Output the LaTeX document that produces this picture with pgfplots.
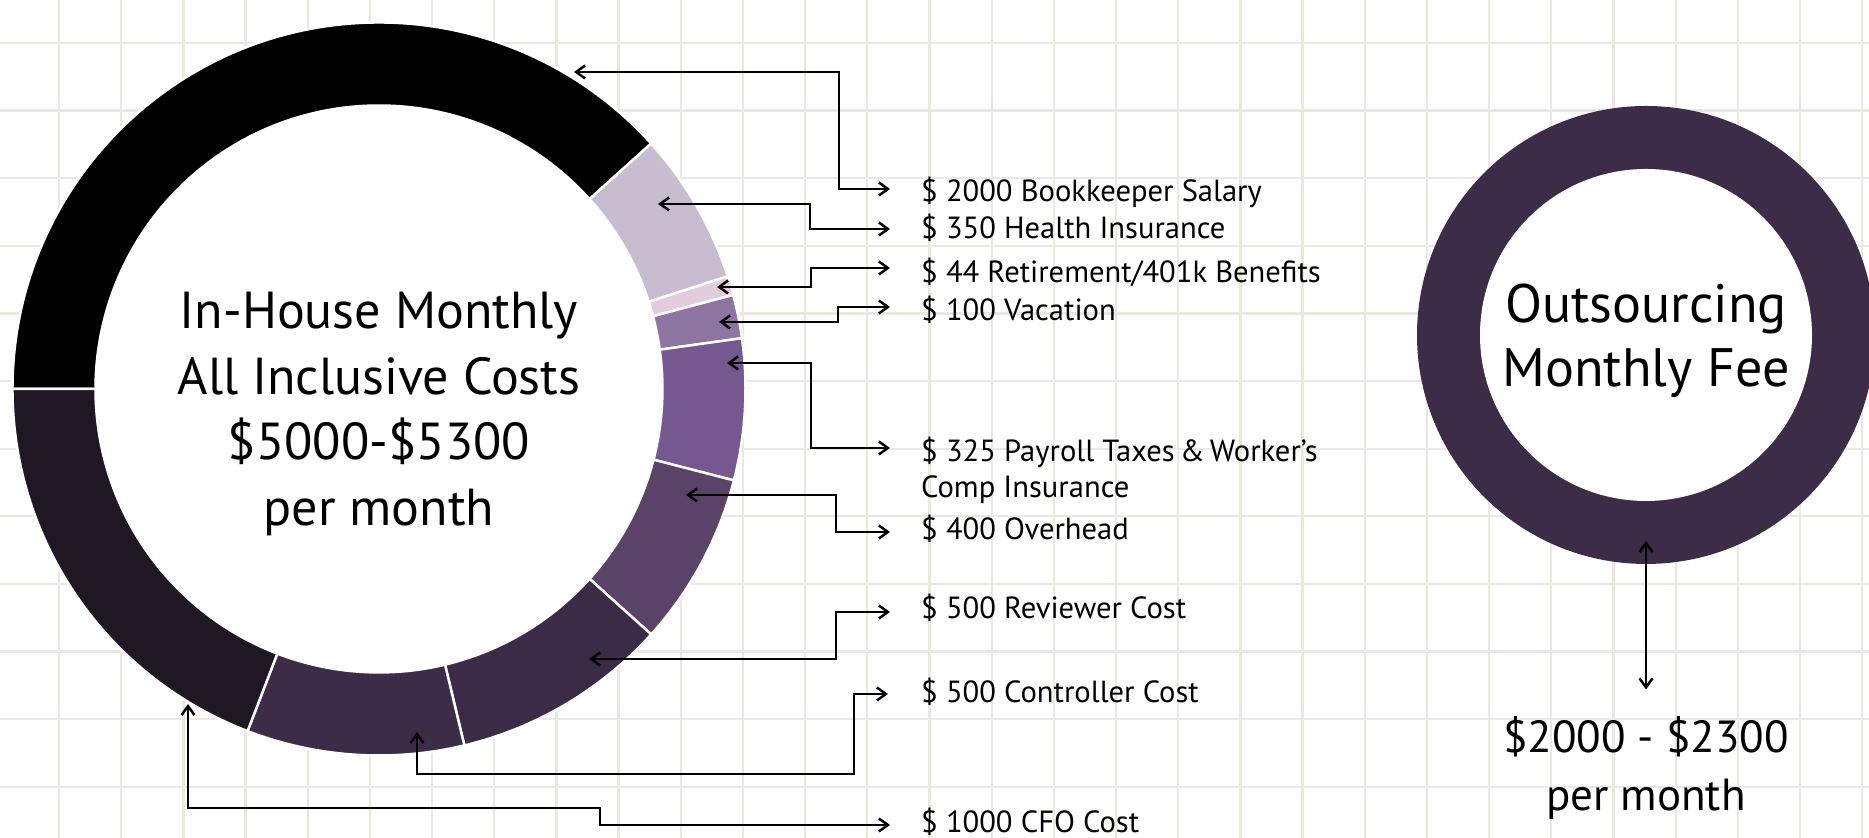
\documentclass[border=0pt]{standalone}
\usepackage{fontspec}
\setmainfont{PT Sans}
\usepackage{pgfplots}
\pgfplotsset{compat=1.18}
\usepackage{pgfplotstable}
\usetikzlibrary{calc,arrows.meta}

\definecolor{gridc}{HTML}{EAE8E1}
\definecolor{seg0}{HTML}{000000}
\definecolor{seg1}{HTML}{C7BCD0}
\definecolor{seg2}{HTML}{E2CDDC}
\definecolor{seg3}{HTML}{8E74A0}
\definecolor{seg4}{HTML}{765891}
\definecolor{seg5}{HTML}{5A4269}
\definecolor{seg6}{HTML}{3C2B46}
\definecolor{seg7}{HTML}{3D2C47}
\definecolor{seg8}{HTML}{1F1724}
\definecolor{ringc}{HTML}{3D2C47}

% monthly in-house costs, clockwise from 9 o'clock
\pgfplotstableread{
value
2000
350
44
100
325
400
500
500
1000
}\costs

\newcommand\lbl{\fontsize{8.7pt}{10.5pt}\selectfont}

\begin{document}
\begin{tikzpicture}
\begin{axis}[
  scale only axis, width=186.9mm, height=83.8mm,
  xmin=0, xmax=1869, ymin=0, ymax=838,
  axis line style={draw=none},
  xtick={59,121.18,...,1864}, ytick={51.05,118.7,...,797},
  xmajorticks=false, ymajorticks=false,
  xmajorgrids=true, ymajorgrids=true,
  grid style={color=gridc, line width=0.65pt},
  clip=true,
]
% donut (left)
\pgfplotsextra{
  \gdef\tot{0}
  \foreach \i in {0,...,8} {
    \pgfplotstablegetelem{\i}{value}\of\costs
    \pgfmathsetmacro\nt{\tot+\pgfplotsretval}
    \global\let\tot\nt
  }
  \gdef\cum{0}
  \foreach \i in {0,...,8} {
    \pgfplotstablegetelem{\i}{value}\of\costs
    \pgfmathsetmacro\aA{180-\cum/\tot*360}
    \pgfmathsetmacro\aB{180-(\cum+\pgfplotsretval)/\tot*360}
    \fill[seg\i, draw=white, line width=0.7pt]
      ($(axis cs:379,449)+(\aA:36.65mm)$) arc[start angle=\aA, end angle=\aB, radius=36.65mm]
      -- ($(axis cs:379,449)+(\aB:28.35mm)$) arc[start angle=\aB, end angle=\aA, radius=28.35mm] -- cycle;
    \pgfmathsetmacro\nc{\cum+\pgfplotsretval}
    \global\let\cum\nc
  }
  \fill[white] (axis cs:379,449) circle[radius=28.35mm];
  % right ring
  \fill[ringc] (axis cs:1646,503) circle[radius=22.9mm];
  \fill[white] (axis cs:1646,503) circle[radius=16.6mm];
}
% connectors
\begin{scope}[line width=0.7pt, {Straight Barb[length=0.9mm,width=1.3mm]}-{Straight Barb[length=0.9mm,width=1.3mm]}]
\draw (axis cs:574,766) -- (axis cs:839,766) -- (axis cs:839,649) -- (axis cs:890,649);
\draw (axis cs:658,634) -- (axis cs:810,634) -- (axis cs:810,609) -- (axis cs:890,609);
\draw (axis cs:717,551) -- (axis cs:811,551) -- (axis cs:811,570) -- (axis cs:890,570);
\draw (axis cs:719,516) -- (axis cs:838,516) -- (axis cs:838,531) -- (axis cs:890,531);
\draw (axis cs:727,475) -- (axis cs:811,475) -- (axis cs:811,390) -- (axis cs:890,390);
\draw (axis cs:686,343) -- (axis cs:836,343) -- (axis cs:836,306) -- (axis cs:890,306);
\draw (axis cs:589,179) -- (axis cs:836,179) -- (axis cs:836,226) -- (axis cs:890,226);
\draw (axis cs:417,106) -- (axis cs:417,64) -- (axis cs:854,64) -- (axis cs:854,144) -- (axis cs:888,144);
\draw (axis cs:188,134) -- (axis cs:188,30) -- (axis cs:600,30) -- (axis cs:600,13) -- (axis cs:890,13);
\draw (axis cs:1646,297) -- (axis cs:1646,148.5);
\end{scope}
% labels
\begin{scope}[every node/.style={anchor=base west, inner sep=0pt, font=\lbl}]
\node at (axis cs:920.5,636.3) {\$ 2000 Bookkeeper Salary};
\node at (axis cs:920.5,599) {\$ 350 Health Insurance};
\node at (axis cs:920.5,555.3) {\$ 44 Retirement/401k Benefits};
\node at (axis cs:920.5,517.3) {\$ 100 Vacation};
\node at (axis cs:920.5,376.3) {\$ 325 Payroll Taxes\,\&\,Worker’s};
\node at (axis cs:920.5,340) {Comp Insurance};
\node at (axis cs:920.5,298) {\$ 400 Overhead};
\node at (axis cs:920.5,219) {\$ 500 Reviewer Cost};
\node at (axis cs:920.5,135.3) {\$ 500 Controller Cost};
\node at (axis cs:920.5,5) {\$ 1000 CFO Cost};
\end{scope}
\node[align=center, inner sep=0pt, font=\fontsize{14.8pt}{18.6pt}\selectfont] at (axis cs:379,424)
  {In-House Monthly\\All Inclusive Costs\\\$5000-\$5300\\per month};
\node[align=center, inner sep=0pt, font=\fontsize{15.4pt}{18.35pt}\selectfont] at (axis cs:1646,497)
  {Outsourcing\\Monthly Fee};
\node[align=center, inner sep=0pt, font=\fontsize{12.8pt}{16.5pt}\selectfont] at (axis cs:1646,70)
  {\$2000 - \$2300\\per month};
\end{axis}
\pgfresetboundingbox
\useasboundingbox (0,0) rectangle (186.9mm,83.8mm);
\end{tikzpicture}
\end{document}
